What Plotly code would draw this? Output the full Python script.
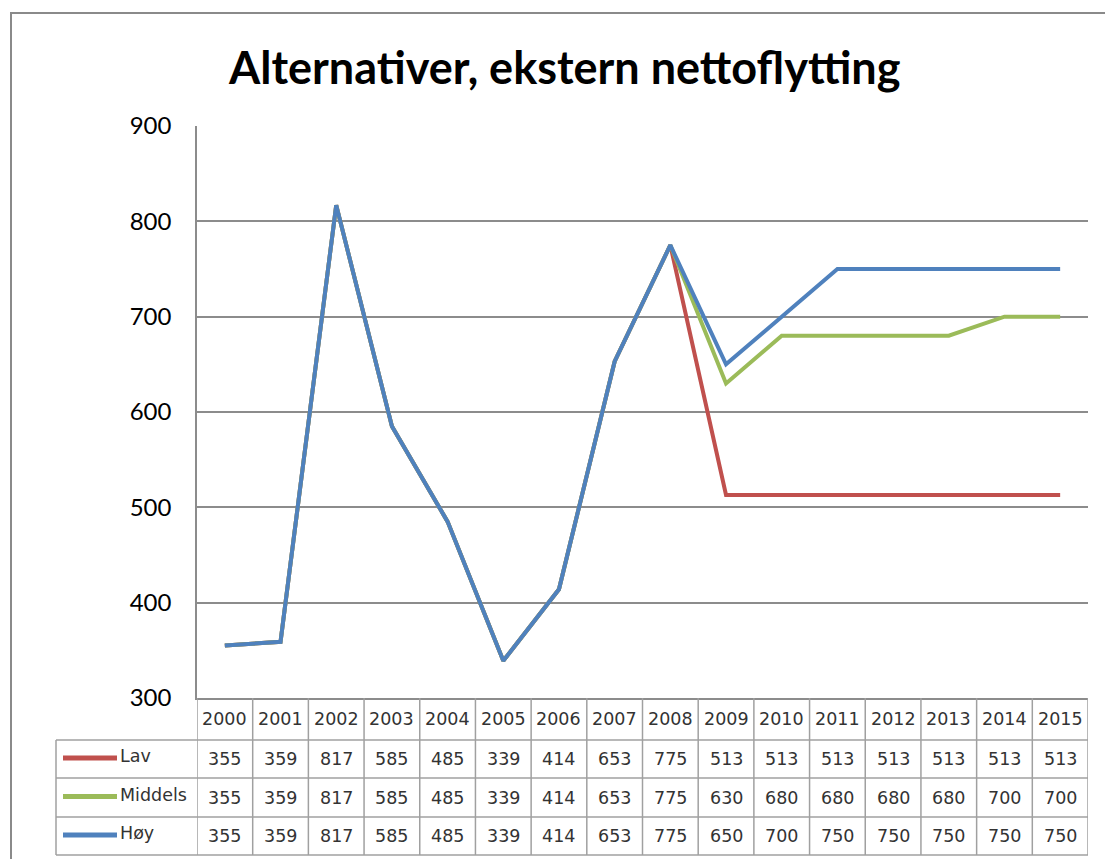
import plotly.graph_objects as go

# ---- data ----
years = [str(y) for y in range(2000, 2016)]
lav = [355, 359, 817, 585, 485, 339, 414, 653, 775, 513, 513, 513, 513, 513, 513, 513]
middels = [355, 359, 817, 585, 485, 339, 414, 653, 775, 630, 680, 680, 680, 680, 700, 700]
hoy = [355, 359, 817, 585, 485, 339, 414, 653, 775, 650, 700, 750, 750, 750, 750, 750]
series_names = ["Lav", "Middels", "Høy"]
series_values = [lav, middels, hoy]
series_colors = ["#C0504D", "#9BBB59", "#4F81BD"]
y_ticks = [300, 400, 500, 600, 700, 800, 900]
title_text = "Alternativer, ekstern nettoflytting"

# ---- layout helpers (pixel -> paper) ----
W, H = 1105, 859
def px(x):
    return x / W
def py(y):
    return 1 - y / H

PLOT_L, PLOT_R, PLOT_T, PLOT_B = 197, 1088, 126, 698
HEADER_B = 740
ROW_B = [778, 817, 855]
LEG_L = 56
GRID = "#8c8c8c"
TABLE_LINE = "#a0a0a0"
TXT_FONT = dict(family="DejaVu Sans", size=17.5, color="#333333")

x_idx = list(range(len(years)))

fig = go.Figure()
for name, vals, col in zip(series_names, series_values, series_colors):
    fig.add_trace(go.Scatter(x=x_idx, y=vals, mode="lines", name=name,
                             line=dict(color=col, width=4), showlegend=False))

shapes = []
annotations = []

# outer chart border
shapes.append(dict(type="rect", xref="paper", yref="paper",
                   x0=px(11), x1=px(1120), y0=py(880), y1=py(13),
                   line=dict(color="#8a8a8a", width=2)))

# table vertical lines (column boundaries on the x scale)
for i in range(len(years) + 1):
    shapes.append(dict(type="line", xref="x", yref="paper",
                       x0=i - 0.5, x1=i - 0.5, y0=py(PLOT_B), y1=py(ROW_B[-1]),
                       line=dict(color=TABLE_LINE, width=1.5)))
# left legend column border
shapes.append(dict(type="line", xref="paper", yref="paper",
                   x0=px(LEG_L), x1=px(LEG_L), y0=py(HEADER_B), y1=py(ROW_B[-1]),
                   line=dict(color=TABLE_LINE, width=1.5)))
# header bottom + row lines
shapes.append(dict(type="line", xref="paper", yref="paper",
                   x0=px(LEG_L), x1=px(PLOT_R), y0=py(HEADER_B), y1=py(HEADER_B),
                   line=dict(color=TABLE_LINE, width=1.5)))
for yb in ROW_B:
    shapes.append(dict(type="line", xref="paper", yref="paper",
                       x0=px(LEG_L), x1=px(PLOT_R), y0=py(yb), y1=py(yb),
                       line=dict(color=TABLE_LINE, width=1.5)))

# header year labels
for i, yr in enumerate(years):
    annotations.append(dict(x=i, xref="x", y=py((PLOT_B + HEADER_B) / 2), yref="paper",
                            text=yr, showarrow=False, font=TXT_FONT,
                            xanchor="center", yanchor="middle"))

# data rows
row_tops = [HEADER_B] + ROW_B[:-1]
for r, (name, vals, col) in enumerate(zip(series_names, series_values, series_colors)):
    yc = (row_tops[r] + ROW_B[r]) / 2
    for i, v in enumerate(vals):
        annotations.append(dict(x=i, xref="x", y=py(yc), yref="paper",
                                text=str(v), showarrow=False, font=TXT_FONT,
                                xanchor="center", yanchor="middle"))
    # legend key
    shapes.append(dict(type="line", xref="paper", yref="paper",
                       x0=px(63), x1=px(117), y0=py(yc - 1), y1=py(yc - 1),
                       line=dict(color=col, width=5)))
    annotations.append(dict(x=px(118), xref="paper", y=py(yc - 3), yref="paper",
                            text=name, showarrow=False, font=TXT_FONT,
                            xanchor="left", yanchor="middle"))

# title
annotations.append(dict(x=px(564), xref="paper", y=py(67), yref="paper",
                        text="<b>" + title_text + "</b>", showarrow=False,
                        font=dict(family="Lato", size=45, color="#000000"),
                        xanchor="center", yanchor="middle"))

fig.update_layout(
    width=W, height=H, autosize=False,
    margin=dict(l=0, r=0, t=0, b=0, pad=0, autoexpand=False),
    paper_bgcolor="white", plot_bgcolor="white",
    shapes=shapes, annotations=annotations,
    xaxis=dict(domain=[px(PLOT_L), px(PLOT_R)], range=[-0.5, len(years) - 0.5],
               showticklabels=False, showgrid=False, zeroline=False, automargin=False,
               showline=True, linecolor=GRID, linewidth=1.5, fixedrange=True),
    yaxis=dict(domain=[py(PLOT_B), py(PLOT_T)], range=[300, 900], automargin=False,
               tickvals=y_ticks, showgrid=True, gridcolor=GRID, gridwidth=1.5,
               zeroline=False, showline=True, linecolor=GRID, linewidth=1.5,
               tickfont=dict(family="Lato", size=24, color="#000000"),
               ticks="", ticklabelstandoff=19, fixedrange=True),
)

fig.write_html("out.html", config={"displayModeBar": False},
               post_script="document.body.style.margin='0';document.body.style.overflow='hidden';")
